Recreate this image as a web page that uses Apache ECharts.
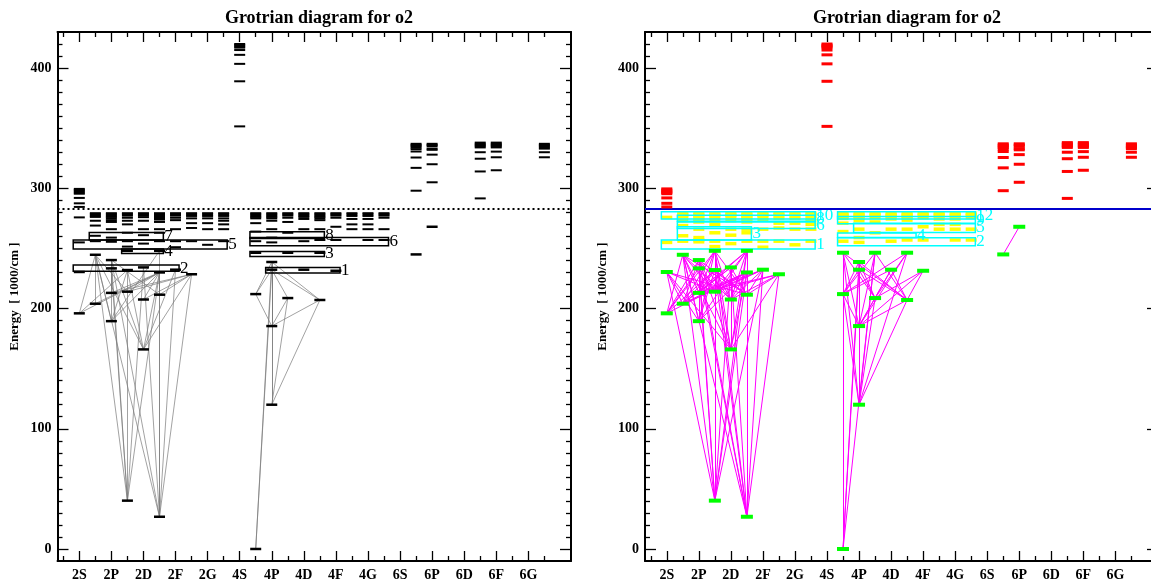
<!DOCTYPE html>
<html><head><meta charset="utf-8">
<script src="https://cdn.jsdelivr.net/npm/echarts@6/dist/echarts.min.js"></script>
<style>html,body{margin:0;padding:0;background:#fff}#c{width:1151px;height:586px}</style>
</head><body><div id="c"></div>
<script>
// ---------- data ----------
const termNames = ['2S','2P','2D','2F','2G','4S','4P','4D','4F','4G','6S','6P','6D','6F','6G'];
const termPos = [1,2,3,4,5,6,7,8,9,10,11,12,13,14,15];
const termMinor = [0.5,1.5,2.5,3.5,4.5,5.5,6.5,7.5,8.5,9.5,10.5,11.5,12.5,13.5,14.5,15.5];
const yMajor = [0,100,200,300,400];
const yMinor = [10,20,30,40,50,60,70,80,90,110,120,130,140,150,160,170,180,190,210,220,230,240,250,260,270,280,290,310,320,330,340,350,360,370,380,390,410,420];
const ionE = 283;

// levels taking part in transitions
const lowX = [1.0,1.0,1.5,1.5,2.0,2.0,2.0,2.0,2.5,2.5,2.5,2.5,3.0,3.0,3.0,3.5,3.5,3.5,3.5,4.0,4.5,
              6.5,6.5,6.5,7.0,7.0,7.0,7.0,7.5,7.5,8.0,8.5,8.5,9.0,11.5,12.0];
const lowE = [196,230.4,244.7,204,240.3,233.4,213,189.5,248,232,214,40.2,234.2,207.5,166,248,230,211.5,26.8,232.3,228.5,
              0,212,246.4,238.7,232.3,185.4,120,246.4,208.7,232.3,246.4,207.1,231.4,245,268];

// dense levels below the ionization limit
const denseX = [1.0,1.5,2.0,2.5,3.0,3.5,4.0,4.5,5.0,5.5,6.5,7.0,7.5,8.0,8.5,9.0,9.5,10.0,10.5];
const denseE = [
  [275.8,255],
  [279.3,278.3,277.3,276.2,273,269,260.5,256],
  [279.3,278.3,277.3,276.2,275,273.5,272,266,259,257,255.5],
  [279.3,278.3,277.3,275.5,273,270,263,256,251.5],
  [279.3,278.3,277.3,276,273,266,261,254],
  [279.3,278.3,277.3,276.3,275.3,274,272,266,263,256],
  [279.3,278.3,277.3,275.5,273.5,266,256,251],
  [279.3,278.3,277,275,271,267,256],
  [279.3,278.3,277,275,271,266,253],
  [279.3,278.3,277,275,273,270,266,256],
  [279.3,278.3,277.3,276.2,275,271,264,256],
  [279.3,278.3,277.3,276.2,275,273,266,259,255],
  [279.3,278.3,277.3,275.5,272,263],
  [279.3,278.3,277.3,276.2,274.5,266,256],
  [279.3,278.3,277.3,276.2,275,273.5,266,257],
  [279.3,278.3,277.3,275.5,268,257],
  [279.3,278.3,277,274.5,270,266],
  [279.3,278.3,277,274.5,270,266,257],
  [279.3,278.3,277.3,275.5,266,257]
];

// levels above the ionization limit
const highX = [1.0,6.0,11.5,12.0,13.5,14.0,15.5];
const highE = [
  [299.5,298.5,297.5,296.5,295.5,292,287.5,284.5],
  [420,419,418,417,415,411,403.5,389,351.5],
  [337,336,335,334,332.6,330.6,325.6,317,298],
  [337,336,335,333,332,328,320,305],
  [338,337,336,335,334,330,324.6,314,291.6],
  [338,337,336,335,334,330.5,325.8,315],
  [337,336,335,334,333,330,325.8]
];

// transitions (indices into lowX/lowE)
const leftTrans = [[0,2],[0,16],[0,9],[3,16],[3,2],[7,2],[7,4],[7,16],[7,15],[7,9],
  [11,2],[11,4],[11,5],[11,9],[11,16],[11,12],
  [14,2],[14,4],[14,9],[14,16],[14,19],[14,20],
  [18,2],[18,4],[18,12],[18,16],[18,19],[18,20],[18,15],
  [6,4],[6,16],[6,20],[10,16],[10,20],[10,2],[13,16],[13,20],[17,16],[17,20],[17,4],
  [21,24],[21,25],[27,24],[27,25],[27,29],[27,32],[26,24],[26,25],[26,22],[26,29],[26,32],
  [22,24],[22,25],[29,25],[32,25],[32,24]];
const rightTransLow = [11,18,14,7,0,3,6,10,13,17,21,27,26,22,29,32,34];
const rightTransUp = [
  [1,2,4,5,8,9,12,15,16,19],
  [2,4,5,8,9,12,15,16,19,20],
  [1,2,4,8,9,12,15,16,20],
  [1,2,4,5,8,9,15,16],
  [2,4,5,8,9,16],
  [1,4,8,9,12,15,16,19],
  [2,8,9,12,15,16,19,20],
  [1,2,4,5,15,16,19,20],
  [2,4,8,9,15,16,19,20],
  [1,2,4,8,9,12,15,19,20],
  [23,24,25,28],
  [22,23,24,25,28,29,31,32],
  [22,23,24,25,28,29,30,31,32,33],
  [24,25,28,30,31],
  [23,24,25,30,31,33],
  [23,24,25,28,30,33],
  [35]
];

// configuration boxes: x0, x1, E0, E1, label
const leftBoxes = [
  [1.31,3.62,257,263.3,'7'],
  [0.81,5.61,249.5,257,'5'],
  [2.32,3.62,245.8,249.5,'4'],
  [0.81,4.11,230.9,236.2,'2'],
  [6.32,8.64,258.3,263.9,'8'],
  [6.32,10.64,252.2,259.1,'6'],
  [6.32,8.64,243.3,247.5,'3'],
  [6.81,9.13,229.5,234.2,'1']
];
const rightBoxes = [
  [0.83,5.63,274.4,280.5,'10'],
  [1.33,5.63,272.5,277.5,'8'],
  [1.33,5.63,266.5,272,'6'],
  [1.33,3.64,257,268,'3'],
  [0.83,5.63,249.5,257,'1'],
  [6.33,10.63,274.4,280.5,'12'],
  [6.33,10.63,270.5,276.5,'9'],
  [6.83,10.63,263.3,271,'5'],
  [6.33,8.78,259,262.8,'4'],
  [6.33,10.63,252.2,258.8,'2']
];

// ---------- chart ----------
const X_MIN = 0.32, X_MAX = 16.33, Y_MIN = -10, Y_MAX = 430;
const FONT = 'Liberation Serif';

function xAx(g, pos, ticks, len, showLine, showLabel) {
  return {type:'value', gridIndex:g, position:pos, min:X_MIN, max:X_MAX,
    axisLine:{show:showLine, onZero:false, lineStyle:{color:'#000', width:2}},
    axisTick:{show:true, inside:true, length:len, customValues:ticks, lineStyle:{color:'#000', width:1.3}},
    axisLabel:{show:showLabel, customValues:ticks, formatter:v=>termNames[Math.round(v)-1],
      margin:7, color:'#000', fontFamily:FONT, fontWeight:'bold', fontSize:14},
    splitLine:{show:false}, minorTick:{show:false}};
}
function yAx(g, pos, ticks, len, showLine, showLabel, name) {
  return {type:'value', gridIndex:g, position:pos, min:Y_MIN, max:Y_MAX,
    name: name || '', nameLocation:'middle', nameRotate:90, nameGap:36,
    nameTextStyle:{color:'#000', fontFamily:FONT, fontWeight:'bold', fontSize:13},
    axisLine:{show:showLine, onZero:false, lineStyle:{color:'#000', width:2}},
    axisTick:{show:true, inside:true, length:len, customValues:ticks, lineStyle:{color:'#000', width:1.3}},
    axisLabel:{show:showLabel, customValues:ticks, margin:6, color:'#000', fontFamily:FONT, fontWeight:'bold', fontSize:14},
    splitLine:{show:false}, minorTick:{show:false}};
}

const xAxes = [], yAxes = [];
[0,1].forEach(g => {
  xAxes.push(xAx(g,'bottom',termPos,10,true,true));
  xAxes.push(xAx(g,'bottom',termMinor,5,false,false));
  xAxes.push(xAx(g,'top',termPos,10,true,false));
  xAxes.push(xAx(g,'top',termMinor,5,false,false));
  yAxes.push(yAx(g,'left',yMajor,11,true,true,'Energy  [ 1000/cm ]'));
  yAxes.push(yAx(g,'left',yMinor,5,false,false));
  yAxes.push(yAx(g,'right',yMajor,11,true,false));
  yAxes.push(yAx(g,'right',yMinor,5,false,false));
});

function pts(xs, es) {
  const out = [];
  xs.forEach((x,i) => es[i].forEach(e => out.push([x,e])));
  return out;
}
const densePts = pts(denseX, denseE);
const highPts = pts(highX, highE);
const lowPts = lowX.map((x,i)=>[x, lowE[i]]);
const leftLines = leftTrans.map(([a,b]) => ({coords:[[lowX[a],lowE[a]],[lowX[b],lowE[b]]]}));
const rightLines = [];
rightTransLow.forEach((a,k) => rightTransUp[k].forEach(b => rightLines.push({coords:[[lowX[a],lowE[a]],[lowX[b],lowE[b]]]})));

function boxSeries(g, boxes, color) {
  return {type:'custom', xAxisIndex:g*4, yAxisIndex:g*4, z:4, silent:true,
    data: boxes.map(b => [b[0],b[1],b[2],b[3]]),
    encode:{x:[0,1], y:[2,3]},
    renderItem:(params, api) => {
      const p0 = api.coord([api.value(0), api.value(3)]);
      const p1 = api.coord([api.value(1), api.value(2)]);
      return {type:'group', children:[
        {type:'rect', shape:{x:p0[0], y:p0[1], width:p1[0]-p0[0], height:p1[1]-p0[1]},
          style:{fill:'none', stroke:color, lineWidth:1.5}},
        {type:'text', style:{text:boxes[params.dataIndex][4], x:p1[0]+1, y:(p0[1]+p1[1])/2,
          verticalAlign:'middle', align:'left', fill:color, font:'17px "Liberation Serif"'}}
      ]};
    }};
}
function levelSeries(g, data, color, w, h, z) {
  return {type:'scatter', xAxisIndex:g*4, yAxisIndex:g*4, data, symbol:'rect', symbolSize:[w,h],
    itemStyle:{color, opacity:1}, silent:true, z};
}
function lineSeries(g, data, color, width) {
  return {type:'lines', coordinateSystem:'cartesian2d', xAxisIndex:g*4, yAxisIndex:g*4, data,
    lineStyle:{color, width, opacity:1}, silent:true, z:2};
}
function ionSeries(g, color, type, width) {
  return {type:'line', xAxisIndex:g*4, yAxisIndex:g*4, data:[], silent:true,
    markLine:{silent:true, symbol:['none','none'], label:{show:false},
      lineStyle:{color, type, width}, data:[{yAxis:ionE}]}};
}

const option = {
  animation:false,
  backgroundColor:'#fff',
  title:[
    {text:'Grotrian diagram for o2', left:314, top:4, textAlign:'center',
      textStyle:{fontFamily:FONT, fontWeight:'bold', fontSize:18, color:'#000'}},
    {text:'Grotrian diagram for o2', left:902, top:4, textAlign:'center',
      textStyle:{fontFamily:FONT, fontWeight:'bold', fontSize:18, color:'#000'}}
  ],
  grid:[
    {left:57.5, top:32, width:513.5, height:529, outerBoundsMode:'none', containLabel:false},
    {left:645, top:32, width:513, height:529, outerBoundsMode:'none', containLabel:false}
  ],
  xAxis:xAxes, yAxis:yAxes,
  series:[
    lineSeries(0, leftLines, '#7a7a7a', 0.7),
    ionSeries(0, '#000', [2,3], 2),
    boxSeries(0, leftBoxes, '#000'),
    levelSeries(0, densePts, '#000', 11, 2, 5),
    levelSeries(0, highPts, '#000', 11, 2, 5),
    levelSeries(0, lowPts, '#000', 11, 2.5, 5),

    lineSeries(1, rightLines, '#ff00ff', 1),
    ionSeries(1, '#0000cc', 'solid', 1.8),
    levelSeries(1, densePts, '#ffff00', 11, 3.5, 3),
    boxSeries(1, rightBoxes, '#00ffff'),
    levelSeries(1, highPts, '#ff0000', 11, 3, 5),
    levelSeries(1, lowPts, '#00ff00', 12, 4, 5)
  ]
};
const chart = echarts.init(document.getElementById('c'), null, {renderer:'canvas'});
chart.setOption(option);
</script>
</body></html>
